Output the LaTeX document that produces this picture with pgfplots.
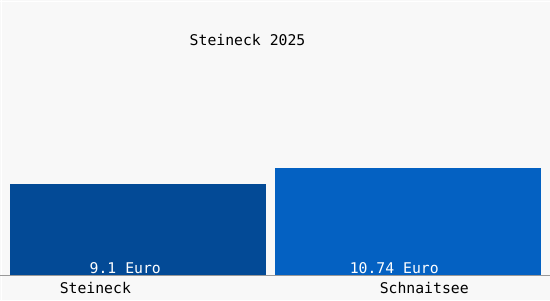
\documentclass[border=0pt]{standalone}
\usepackage{pgfplots}
\pgfplotsset{compat=1.18}
\usepackage{fontspec}
\setmainfont{DejaVu Sans Mono}
\setmonofont{DejaVu Sans Mono}
\definecolor{bgc}{HTML}{F8F8F8}
\definecolor{barA}{HTML}{034A96}
\definecolor{barB}{HTML}{0461C2}
\tikzset{lbl/.style={font=\fontsize{14.8bp}{17bp}\selectfont, inner sep=0pt}}
\begin{document}
\begin{tikzpicture}
\begin{axis}[
  scale only axis,
  width=550bp, height=300bp,
  xmin=0, xmax=550,
  ymin=-2.5, ymax=27.5,
  axis lines=none,
  ticks=none,
  clip=false,
  axis background/.style={fill=bgc},
  ybar, bar shift=0pt,
]
\draw[white, line width=1bp] (axis cs:1.5,-2.5) -- (axis cs:1.5,27.5);
\draw[white, line width=1bp] (axis cs:0,27.35) -- (axis cs:550,27.35);
\addplot[fill=barA, draw=none, bar width=256] coordinates {(138,9.1)};
\addplot[fill=barB, draw=none, bar width=266] coordinates {(408,10.74)};
\draw[gray!80, line width=1bp] (axis cs:0,0) -- (axis cs:550,0);
\node[lbl, white] at (axis cs:125,0.7) {9.1 Euro};
\node[lbl, white] at (axis cs:394.5,0.7) {10.74 Euro};
\node[lbl, black] at (axis cs:95,-1.3) {Steineck};
\node[lbl, black] at (axis cs:424.5,-1.3) {Schnaitsee};
\node[lbl, black] at (axis cs:247.5,23.5) {Steineck 2025};
\end{axis}
\end{tikzpicture}
\end{document}
